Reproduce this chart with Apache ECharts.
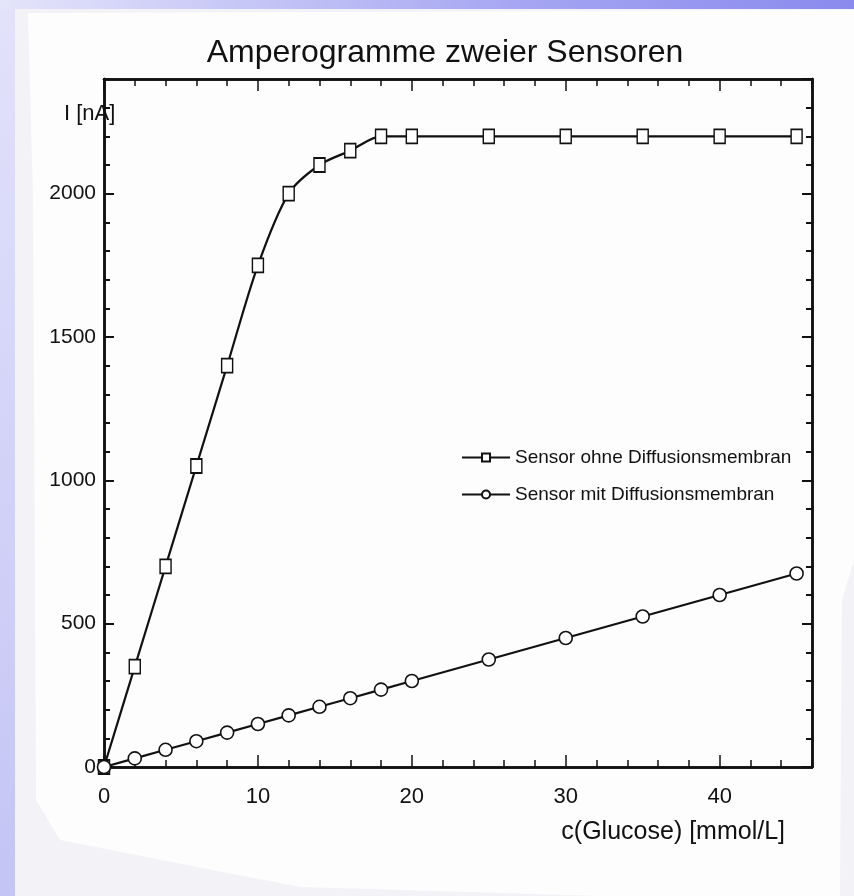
<!DOCTYPE html>
<html>
<head>
<meta charset="utf-8">
<title>Amperogramme zweier Sensoren</title>
<script src="https://cdn.jsdelivr.net/npm/echarts@6/dist/echarts.min.js"></script>
<style>
  html, body {
    margin: 0;
    padding: 0;
  }
  body {
    width: 854px;
    height: 896px;
    position: relative;
    overflow: hidden;
    background: linear-gradient(to bottom, #e2e2fb, #c4c4f5);
  }
  .band {
    position: absolute;
    left: 0;
    top: 0;
    width: 854px;
    height: 9px;
    background: linear-gradient(to right, #e4e4fa, #a6a6f3 60%, #8a8aee);
  }
  .paper {
    position: absolute;
    left: 15px;
    top: 9px;
    width: 839px;
    height: 887px;
    background: #f2f2f7;
  }
  .card {
    position: absolute;
    left: 0;
    top: 0;
    width: 854px;
    height: 896px;
    background: #fdfdfd;
    clip-path: polygon(28px 13px, 854px 10px, 854px 560px, 842px 600px, 840px 896px, 600px 896px, 300px 887px, 60px 840px, 36px 800px, 33px 200px);
  }
  #chart {
    position: absolute;
    left: 0;
    top: 0;
    width: 854px;
    height: 896px;
  }
</style>
</head>
<body>
<div class="band"></div>
<div class="paper"></div>
<div class="card"></div>
<div id="chart"></div>

<script>
const glucose = [0, 2, 4, 6, 8, 10, 12, 14, 16, 18, 20, 25, 30, 35, 40, 45]
const ohneMembran = [0, 350, 700, 1050, 1400, 1750, 2000, 2100, 2150, 2200, 2200, 2200, 2200, 2200, 2200, 2200]
const mitMembran = [0, 30, 60, 90, 120, 150, 180, 210, 240, 270, 300, 375, 450, 525, 600, 675]

const seriesNames = ['Sensor ohne Diffusionsmembran', 'Sensor mit Diffusionsmembran']
const chartTitle = 'Amperogramme zweier Sensoren'
const yName = 'I [nA]'
const xName = 'c(Glucose) [mmol/L]'

const font = '"Liberation Sans", Arial, Helvetica, sans-serif'
const ink = '#111'

function pairs(xs, ys) {
  return xs.map((x, i) => [x, ys[i]])
}

// Achse mit Strichen nach innen; major = lange Striche + Beschriftung
function xAx(position, interval, tickLen, withLabel) {
  return {
    type: 'value',
    position: position,
    min: 0,
    max: 46,
    interval: interval,
    axisLine: { show: true, onZero: false, lineStyle: { color: ink, width: 2.5 } },
    axisTick: { show: true, inside: true, length: tickLen, lineStyle: { color: ink, width: 1.5 } },
    axisLabel: {
      show: withLabel,
      showMaxLabel: false,
      margin: 19,
      color: ink,
      fontSize: 22,
      fontFamily: font,
      formatter: v => String(v)
    },
    splitLine: { show: false }
  }
}

function yAx(position, interval, tickLen, withLabel) {
  return {
    type: 'value',
    position: position,
    min: 0,
    max: 2400,
    interval: interval,
    axisLine: { show: true, onZero: false, lineStyle: { color: ink, width: 2.5 } },
    axisTick: { show: true, inside: true, length: tickLen, lineStyle: { color: ink, width: 2 } },
    axisLabel: {
      show: withLabel,
      showMaxLabel: false,
      margin: 8,
      color: ink,
      fontSize: 21,
      fontFamily: font,
      formatter: v => String(v)
    },
    splitLine: { show: false }
  }
}

const chart = echarts.init(document.getElementById('chart'), null, { renderer: 'canvas' })

const option = {
  backgroundColor: 'transparent',
  animation: false,
  title: {
    text: chartTitle,
    left: 440,
    top: 32,
    textAlign: 'center',
    textStyle: {
      color: ink,
      fontSize: 32,
      fontWeight: 'normal',
      fontFamily: font
    }
  },
  grid: {
    left: 104,
    right: 42,
    top: 79,
    bottom: 129
  },
  legend: {
    orient: 'vertical',
    left: 456,
    top: 443,
    itemWidth: 48,
    itemHeight: 10,
    itemGap: 18,
    data: seriesNames,
    textStyle: { color: ink, fontSize: 19, fontFamily: font }
  },
  xAxis: [
    xAx('bottom', 10, 12, true),
    xAx('bottom', 2, 7, false),
    xAx('top', 10, 12, false),
    xAx('top', 2, 7, false)
  ],
  yAxis: [
    yAx('left', 500, 10, true),
    yAx('left', 100, 6, false),
    yAx('right', 500, 10, false),
    yAx('right', 100, 6, false)
  ],
  graphic: [
    {
      type: 'text',
      left: 64,
      top: 103,
      style: { text: yName, fill: ink, font: '22px ' + font }
    },
    {
      type: 'text',
      right: 69,
      top: 820,
      style: { text: xName, fill: ink, font: '25px ' + font }
    }
  ],
  series: [
    {
      name: seriesNames[0],
      type: 'line',
      xAxisIndex: 0,
      yAxisIndex: 0,
      smooth: 0.3,
      data: pairs(glucose, ohneMembran),
      symbol: 'rect',
      symbolSize: [11, 14],
      lineStyle: { color: ink, width: 2.2 },
      itemStyle: { color: '#fff', borderColor: ink, borderWidth: 1.6 },
      z: 3
    },
    {
      name: seriesNames[1],
      type: 'line',
      xAxisIndex: 0,
      yAxisIndex: 0,
      data: pairs(glucose, mitMembran),
      symbol: 'circle',
      symbolSize: 13,
      lineStyle: { color: ink, width: 2.2 },
      itemStyle: { color: '#fff', borderColor: ink, borderWidth: 1.6 },
      z: 3
    }
  ]
}

chart.setOption(option)
</script>
</body>
</html>
